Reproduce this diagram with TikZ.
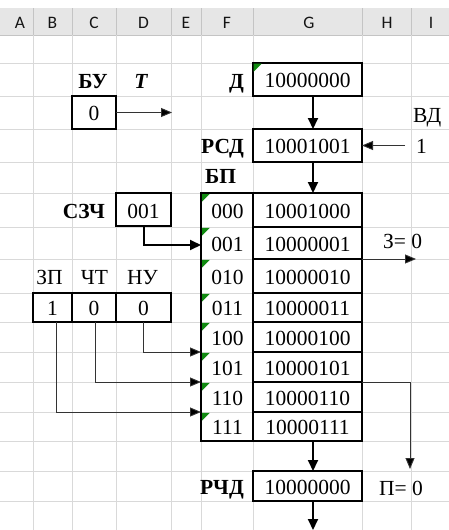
\documentclass[tikz,border=0pt]{standalone}
\usepackage{fontspec}
\setmainfont{Liberation Serif}
\newfontfamily\hdrfont{Carlito}
\usetikzlibrary{arrows.meta}
\definecolor{gridgray}{HTML}{D9D9D9}
\definecolor{hdrfill}{HTML}{E6E6E6}
\definecolor{hdrline}{HTML}{C4C4C4}
\definecolor{xlgreen}{HTML}{108A10}
\begin{document}
\begin{tikzpicture}[x=1pt,y=-1pt,
  gridln/.style={draw=gridgray, line width=0.8pt},
  txt/.style={font=\fontsize{21.5}{24}\selectfont, inner sep=0pt, anchor=base},
  lbl/.style={font=\fontsize{21.5}{24}\selectfont\bfseries, inner sep=0pt},
  hdr/.style={font=\hdrfont\fontsize{17.5}{19}\selectfont, text=black!92, inner sep=0pt, anchor=base},
  cellbox/.style={draw=black, line width=1.3pt, inner sep=0pt, outer sep=0pt, anchor=north west},
  tharrow/.style={line width=2pt, -{Triangle[length=11pt,width=10pt]}},
  tnarrow/.style={line width=0.9pt, draw=black!80, -{Triangle[length=11pt,width=9pt,fill=black]}}
]
\useasboundingbox (0,0) rectangle (449,530);
\fill[white] (0,0) rectangle (449,530);
% header band
\fill[hdrfill] (0,8) rectangle (449,35);
\draw[hdrline, line width=0.8pt] (0,35) -- (449,35);
\foreach \x in {33,72,116,171,201,253,362,411}{
  \draw[hdrline, line width=0.8pt] (\x,8) -- (\x,35);
  \draw[gridln] (\x,35) -- (\x,530);
}
\foreach \y in {63,96,129,162,193,227,259,293,322,352,382,412,441,471,501}{
  \draw[gridln] (0,\y) -- (449,\y);
}
\foreach \c/\x in {A/20,B/52.5,C/94,D/143.5,E/186,F/227,G/309,H/387,I/431}{
  \node[hdr] (h\c) at (\x,28) {\c};
}
% top labels
\node[lbl, anchor=base] (bulbl) at (93,88) {БУ};
\node[lbl, anchor=base] (tlbl) at (141,88) {\itshape T};
\node[lbl, anchor=base east] (dlbl) at (244,88) {Д};
\node[lbl, anchor=base east] (rsdlbl) at (244,153.5) {РСД};
\node[lbl, anchor=base west] (bplbl) at (205,183) {БП};
\node[lbl, anchor=base east] (szlbl) at (105,218) {СЗЧ};
\node[lbl, anchor=base east] (rchdlbl) at (244,494) {РЧД};
\node[txt, anchor=base west] (vd) at (413,122) {ВД};
\node[txt, anchor=base west] (one) at (416,153.5) {1};
\node[txt, anchor=base west] (zeq) at (383,248) {З= 0};
\node[txt, anchor=base west] (peq) at (379,495) {П= 0};
\node[txt] (zpl) at (49.5,284) {ЗП};
\node[txt] (chl) at (94.5,284) {ЧТ};
\node[txt] (nul) at (142.5,284) {НУ};
% boxes
\node[cellbox, minimum width=44pt, minimum height=33pt] (buv) at (72,96) {};
\node[txt] (buvt) at (94,120.5) {0};
\node[cellbox, minimum width=109pt, minimum height=33pt] (d) at (253,63) {};
\fill[xlgreen] (253.7,63.7) -- ++(8,0) -- ++(-8,8) -- cycle;
\node[txt] (dt) at (307.5,87.5) {10000000};
\node[cellbox, minimum width=109pt, minimum height=33pt] (rsd) at (253,129) {};
\node[txt] (rsdt) at (307.5,153.5) {10001001};
\node[cellbox, minimum width=55pt, minimum height=33pt] (szv) at (116,193) {};
\node[txt] (szvt) at (143.5,218) {001};
\node[cellbox, minimum width=39pt, minimum height=29pt] (zpv) at (33,293) {};
\node[cellbox, minimum width=44pt, minimum height=29pt] (chv) at (72,293) {};
\node[cellbox, minimum width=55pt, minimum height=29pt] (nuv) at (116,293) {};
\node[txt] (zpvt) at (52.5,315.5) {1};
\node[txt] (chvt) at (94,315.5) {0};
\node[txt] (nuvt) at (143.5,315.5) {0};
\node[cellbox, minimum width=109pt, minimum height=30pt] (rchd) at (253,471) {};
\node[txt] (rchdt) at (307.5,494) {10000000};
% BP table
\foreach \i/\t/\b/\a/\v in {0/193/227/000/10001000,1/227/259/001/10000001,2/259/293/010/10000010,3/293/322/011/10000011,4/322/352/100/10000100,5/352/382/101/10000101,6/382/412/110/10000110,7/412/441/111/10000111}{
  \node[cellbox, line width=1.5pt, minimum width=109pt, minimum height={(\b-\t)*1pt}] (data\i) at (253,\t) {};
  \node[txt] (dt\i) at (307.5,{(\t+\b)/2+8}) {\v};
  \node[txt] (ad\i) at (227.5,{(\t+\b)/2+8}) {\a};
  \fill[xlgreen] (201.8,\t+0.8) -- ++(8,0) -- ++(-8,8) -- cycle;
}
\node[cellbox, line width=1.6pt, minimum width=161pt, minimum height=248pt] (bp) at (201,193) {};
% connectors
\coordinate (ax) at (313,0);
\draw[tharrow] (d.south -| ax) -- (rsd.north -| ax);
\draw[tharrow] (rsd.south -| ax) -- (bp.north -| ax);
\draw[tharrow] (bp.south -| ax) -- (rchd.north -| ax);
\coordinate (outend) at (313,530);
\draw[tharrow] (rchd.south -| ax) -- (outend);
\coordinate (tend) at (172,111);
\draw[tnarrow] (buv.east) -- (tend |- buv.east);
\coordinate (vdst) at (405,146);
\draw[tnarrow] (vdst |- rsd.east) -- (rsd.east);
\coordinate (sz) at (201,245);
\draw[tharrow] (szv.south) |- (sz);
\coordinate (c45) at (201,352);
\coordinate (c56) at (201,382);
\coordinate (c67) at (201,412);
\draw[tnarrow] (nuv.south) |- (c45);
\draw[tnarrow] ([xshift=1pt]chv.south) |- (c56);
\draw[tnarrow] ([xshift=3.5pt]zpv.south) |- (c67);
\coordinate (zend) at (416,259);
\draw[tnarrow] (data1.south east) -- (zend);
\coordinate (pend) at (410,469);
\draw[tnarrow] (data5.south east) -| (pend);
\end{tikzpicture}
\end{document}
